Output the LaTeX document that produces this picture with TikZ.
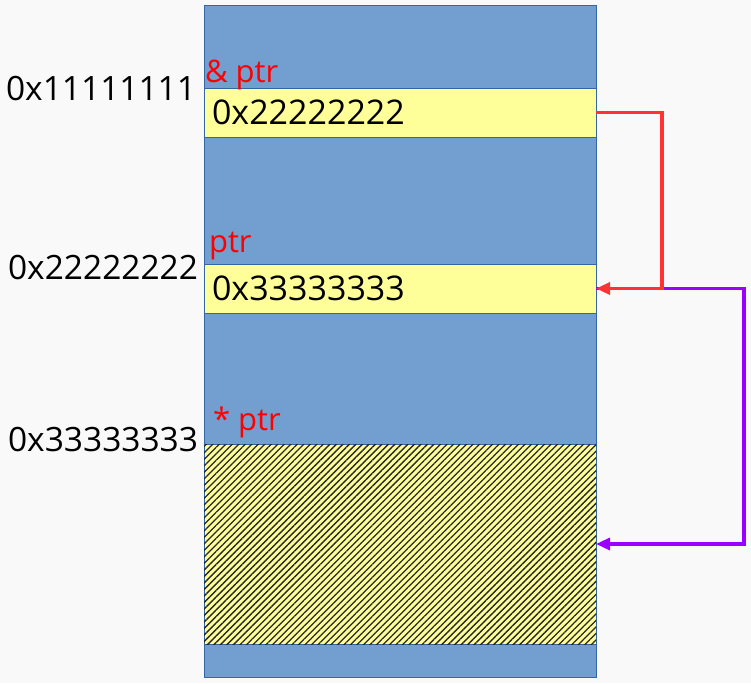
\documentclass[tikz,border=0pt]{standalone}
\usepackage{fontspec}
\setmainfont{Open Sans}
\usetikzlibrary{arrows.meta,patterns.meta}
\definecolor{memblue}{HTML}{729FCF}
\definecolor{memedge}{HTML}{3465A4}
\definecolor{memyellow}{HTML}{FFFF99}
\definecolor{ptrred}{HTML}{FF3333}
\definecolor{ptrpurple}{HTML}{9900FF}
\definecolor{bggrey}{HTML}{F9F9F9}

\begin{document}
\begin{tikzpicture}[x=1pt,y=1pt,
  every node/.style={inner sep=0pt,outer sep=0pt,font=\fontsize{34}{40}\selectfont},
  cell/.style={draw=memedge,line width=0.6pt,fill=memyellow,minimum width=392pt,minimum height=49pt,text width=376pt,align=left},
  addr/.style={anchor=east,font=\fontsize{33.5}{40}\selectfont},
  tag/.style={anchor=west,text=red,font=\fontsize{31}{36}\selectfont},
  link/.style={line width=3.2pt,-{Triangle[length=14pt,width=12pt]}}]
\fill[bggrey] (0,0) rectangle (751,-683);
\useasboundingbox (0,0) rectangle (751,-683);
\node[draw=memedge,line width=0.6pt,fill=memblue,minimum width=392pt,minimum height=672pt,anchor=north west] (col) at (204,-5) {};
\node[cell] (c1) at (400,-112.5) {0x22222222};
\node[cell] (c2) at (400,-288.5) {0x33333333};
\node[draw=memedge,line width=0.6pt,fill=memyellow,minimum width=392pt,minimum height=200pt,
  postaction={pattern={Lines[angle=45,distance=4.6pt,line width=1.3pt]},pattern color=black!85}] (obj) at (400,-544) {};
\node[addr] (a1) at (196,-89) {0x11111111};
\node[addr] (a2) at (198,-268) {0x22222222};
\node[addr] (a3) at (198,-440) {0x33333333};
\node[tag] (t1) at (205,-75) {\&~ptr};
\node[tag] (t2) at (209,-246) {ptr};
\node[tag] (t3) at (213,-422) {*~ptr};
\coordinate (rt) at (662,-112.5);
\coordinate (pt) at (744,-288.5);
\draw[link,ptrpurple] (c2.east) -- (pt) |- (obj.east);
\draw[link,ptrred] (c1.east) -- (rt) |- (c2.east);
\end{tikzpicture}
\end{document}
